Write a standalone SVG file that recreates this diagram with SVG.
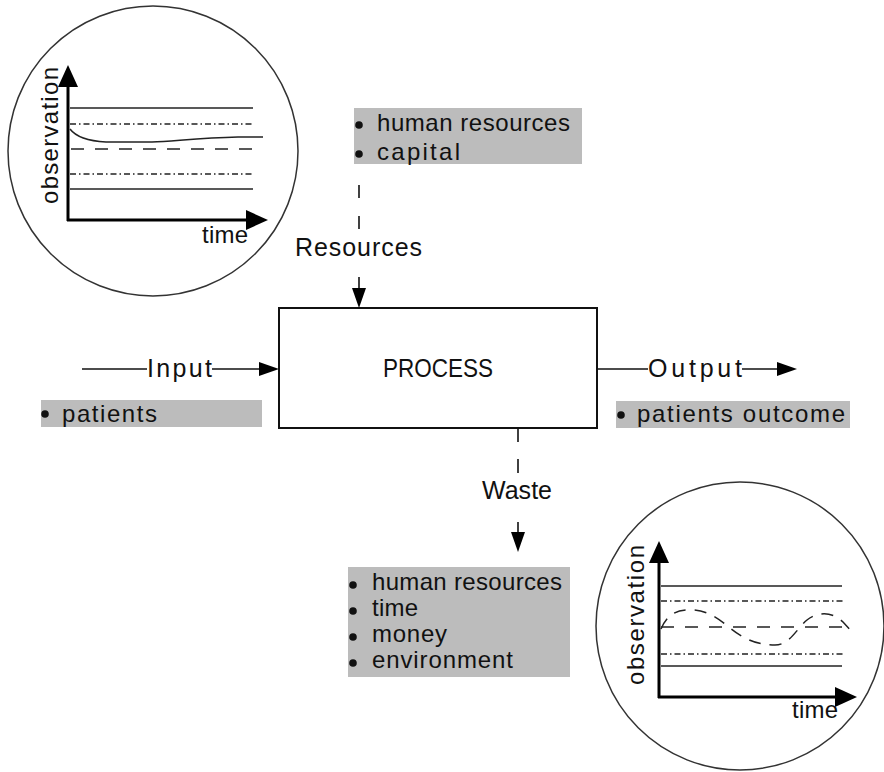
<svg xmlns="http://www.w3.org/2000/svg" width="884" height="772" viewBox="0 0 884 772">
  <style>
    text { font-family: "Liberation Sans", Arial, sans-serif; fill: #111; }
    .lbl { font-size: 25px; }
    .item { font-size: 24px; }
    .ax { font-size: 24px; }
    .list { fill: #bcbcbc; stroke: none; }
    .bullet { fill: #111; }
    .conn { stroke: #111; stroke-width: 1.6; fill: none; }
    .box { fill: #fff; stroke: #111; stroke-width: 2; }
    .lens { fill: #fff; stroke: #333; stroke-width: 1.5; }
    .axis { stroke: #000; stroke-width: 3; fill: none; }
    .solid { stroke: #222; stroke-width: 1.5; fill: none; }
    .dashdot { stroke: #222; stroke-width: 1.3; fill: none; stroke-dasharray: 6 3 1.5 3; }
    .dashed { stroke: #222; stroke-width: 1.5; fill: none; stroke-dasharray: 13 11; }
  </style>
  <defs>
    <marker id="arrow" markerUnits="userSpaceOnUse" markerWidth="20" markerHeight="14" refX="0" refY="7" orient="auto">
      <path d="M0,0 L20,7 L0,14 z" fill="#000"/>
    </marker>
    <marker id="axisArrow" markerUnits="userSpaceOnUse" markerWidth="22" markerHeight="20" refX="0" refY="10" orient="auto">
      <path d="M0,0 L22,10 L0,20 z" fill="#000"/>
    </marker>
  </defs>

  <!-- control chart: process settling in -->
  <g id="chart-top">
    <circle class="lens" cx="153" cy="151" r="145"/>
    <line class="solid" x1="70" y1="108" x2="253" y2="108"/>
    <line class="dashdot" x1="70" y1="124" x2="253" y2="124"/>
    <line class="dashed" x1="71" y1="149" x2="253" y2="149"/>
    <line class="dashdot" x1="70" y1="174" x2="253" y2="174"/>
    <line class="solid" x1="70" y1="189" x2="253" y2="189"/>
    <path class="solid" d="M70,129 C76,137 88,141 106,142 L152,142 C175,141 200,138 238,137 L263,137"/>
    <line class="axis" x1="68" y1="221" x2="68" y2="87" marker-end="url(#axisArrow)"/>
    <line class="axis" x1="67" y1="220" x2="246" y2="220" marker-end="url(#axisArrow)"/>
    <text class="ax" transform="translate(58,204) rotate(-90)" textLength="137" lengthAdjust="spacing">observation</text>
    <text class="ax" x="202" y="243" textLength="46" lengthAdjust="spacing">time</text>
  </g>

  <g id="resources-list">
    <rect class="list" x="354" y="108" width="228" height="56"/>
    <circle class="bullet" cx="359" cy="125" r="3.8"/>
    <circle class="bullet" cx="359" cy="154" r="3.8"/>
    <text class="item" x="377" y="131" textLength="193" lengthAdjust="spacing">human resources</text>
    <text class="item" x="377" y="160" textLength="83" lengthAdjust="spacing">capital</text>
  </g>

  <g id="process">
    <rect class="box" x="279" y="308" width="318" height="120"/>
    <text x="383" y="377" font-size="26" textLength="110" lengthAdjust="spacingAndGlyphs">PROCESS</text>
  </g>

  <g id="input-list">
    <rect class="list" x="41" y="400" width="221" height="27"/>
    <circle class="bullet" cx="45" cy="414" r="3.8"/>
    <text class="item" x="62" y="422" textLength="95" lengthAdjust="spacing">patients</text>
  </g>

  <g id="output-list">
    <rect class="list" x="616" y="401" width="234" height="27"/>
    <circle class="bullet" cx="621" cy="415" r="3.8"/>
    <text class="item" x="637" y="422" textLength="208" lengthAdjust="spacing">patients outcome</text>
  </g>

  <g id="waste-list">
    <rect class="list" x="348" y="567" width="222" height="110"/>
    <circle class="bullet" cx="353" cy="585" r="3.8"/>
    <circle class="bullet" cx="353" cy="611" r="3.8"/>
    <circle class="bullet" cx="353" cy="637" r="3.8"/>
    <circle class="bullet" cx="353" cy="663" r="3.8"/>
    <text class="item" x="372" y="590" textLength="190" lengthAdjust="spacing">human resources</text>
    <text class="item" x="372" y="616" textLength="46" lengthAdjust="spacing">time</text>
    <text class="item" x="372" y="642" textLength="75" lengthAdjust="spacing">money</text>
    <text class="item" x="372" y="668" textLength="141" lengthAdjust="spacing">environment</text>
  </g>

  <!-- control chart: process varying within limits -->
  <g id="chart-bottom">
    <circle class="lens" cx="740" cy="626" r="144"/>
    <line class="solid" x1="661" y1="586" x2="842" y2="586"/>
    <line class="dashdot" x1="661" y1="601" x2="843" y2="601"/>
    <line class="dashed" x1="661" y1="627" x2="843" y2="627"/>
    <line class="dashdot" x1="661" y1="654" x2="843" y2="654"/>
    <line class="solid" x1="661" y1="666" x2="842" y2="666"/>
    <path class="dashed" style="stroke-dasharray:12 9" d="M661,629 C668,612 680,609 694,610 C708,611 718,618 730,628 C745,640 758,645 775,645 C790,645 797,628 807,620 C817,612 832,611 843,622 L852,632"/>
    <line class="axis" x1="659" y1="698" x2="659" y2="563" marker-end="url(#axisArrow)"/>
    <line class="axis" x1="658" y1="697" x2="835" y2="697" marker-end="url(#axisArrow)"/>
    <text class="ax" transform="translate(644,685) rotate(-90)" textLength="140" lengthAdjust="spacing">observation</text>
    <text class="ax" x="792" y="718" textLength="46" lengthAdjust="spacing">time</text>
  </g>

  <g id="connectors">
    <!-- input -->
    <line class="conn" x1="82" y1="369" x2="147" y2="369"/>
    <text class="lbl" x="147" y="377" textLength="65" lengthAdjust="spacing">Input</text>
    <line class="conn" x1="212" y1="369" x2="259" y2="369" marker-end="url(#arrow)"/>
    <!-- output -->
    <line class="conn" x1="597" y1="369" x2="648" y2="369"/>
    <text class="lbl" x="648" y="377" textLength="94" lengthAdjust="spacing">Output</text>
    <line class="conn" x1="742" y1="369" x2="777" y2="369" marker-end="url(#arrow)"/>
    <!-- resources -->
    <line class="conn" x1="359" y1="185" x2="359" y2="198"/>
    <line class="conn" x1="359" y1="216" x2="359" y2="229"/>
    <text class="lbl" x="295" y="256" textLength="127" lengthAdjust="spacing">Resources</text>
    <line class="conn" x1="359" y1="277" x2="359" y2="288" marker-end="url(#arrow)"/>
    <!-- waste -->
    <line class="conn" x1="518" y1="428" x2="518" y2="442"/>
    <line class="conn" x1="518" y1="459" x2="518" y2="473"/>
    <text class="lbl" x="482" y="499" textLength="70" lengthAdjust="spacing">Waste</text>
    <line class="conn" x1="518" y1="522" x2="518" y2="532" marker-end="url(#arrow)"/>
  </g>
</svg>
